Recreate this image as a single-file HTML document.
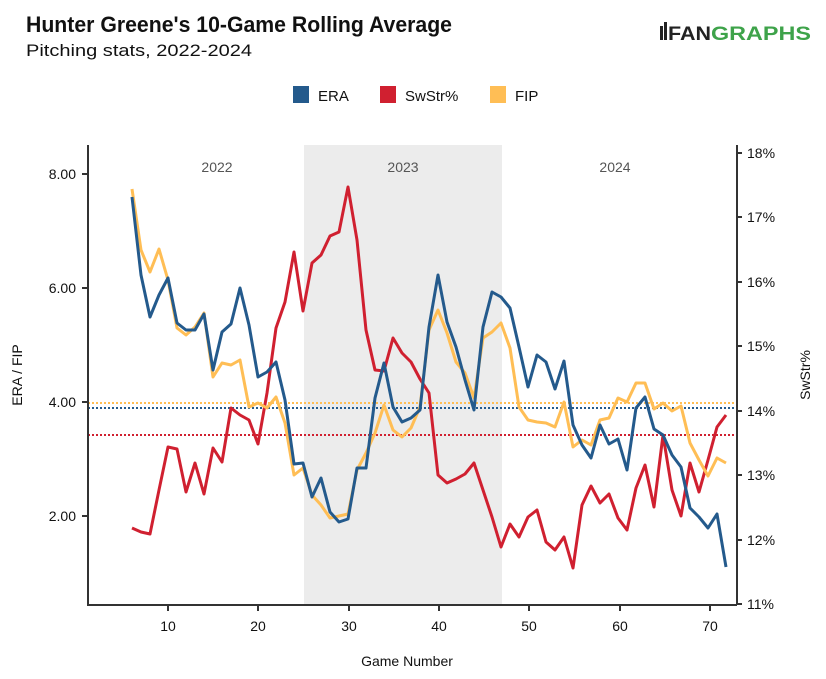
<!DOCTYPE html>
<html><head><meta charset="utf-8"><style>
body{margin:0;background:#fff;}
svg{display:block;font-family:"Liberation Sans",sans-serif;}
</style></head><body>
<svg width="826" height="679" viewBox="0 0 826 679" xmlns="http://www.w3.org/2000/svg">
<rect width="826" height="679" fill="#fff"/>
<text x="26" y="32" font-size="22" font-weight="bold" fill="#111" textLength="426" lengthAdjust="spacingAndGlyphs">Hunter Greene's 10-Game Rolling Average</text>
<text x="26" y="56" font-size="17" fill="#111" textLength="226" lengthAdjust="spacingAndGlyphs">Pitching stats, 2022-2024</text>
<text x="668" y="40" font-size="19" font-weight="bold" fill="#222" textLength="43" lengthAdjust="spacingAndGlyphs">FAN</text>
<text x="711" y="40" font-size="19" font-weight="bold" fill="#3ea34a" textLength="100" lengthAdjust="spacingAndGlyphs">GRAPHS</text>
<rect x="660" y="26" width="3" height="14" fill="#222"/><rect x="664" y="22" width="3" height="18" fill="#222"/>
<rect x="293" y="86" width="16" height="17" fill="#245a8c"/>
<text x="318" y="101" font-size="15" fill="#111">ERA</text>
<rect x="380" y="86" width="16" height="17" fill="#d02030"/>
<text x="405" y="101" font-size="15" fill="#111">SwStr%</text>
<rect x="490" y="86" width="16" height="17" fill="#ffbe55"/>
<text x="515" y="101" font-size="15" fill="#111">FIP</text>
<rect x="304" y="145" width="198" height="460" fill="#ececec"/>
<g font-size="14" fill="#555" text-anchor="middle">
<text x="217" y="172">2022</text><text x="403" y="172">2023</text><text x="615" y="172">2024</text>
</g>
<g stroke-width="2" stroke-dasharray="2,2" fill="none">
<line x1="88" x2="737" y1="403" y2="403" stroke="#ffbe55"/>
<line x1="88" x2="737" y1="408" y2="408" stroke="#245a8c"/>
<line x1="88" x2="737" y1="435" y2="435" stroke="#d02030"/>
</g>
<g fill="none" stroke-width="3" stroke-linejoin="round">
<polyline stroke="#d02030" points="132,528 141,532 150,534 159,490 168,447 177,449 186,492 195,463 204,494 213,448 222,462 231,408 240,415 249,420 258,444 267,393 276,328 285,302 294,252 303,311 312,263 321,255 330,236 339,232 348,187 357,240 366,330 375,370 384,371 393,338 402,353 411,362 420,379 429,393 438,475 447,483 456,479 465,474 474,463 483,490 492,517 501,547 510,524 519,537 528,517 537,510 546,542 555,550 564,537 573,568 582,505 591,486 600,503 609,494 618,518 627,530 636,488 645,465 654,507 663,435 672,490 681,516 690,463 699,492 708,460 717,427 726,415"/>
<polyline stroke="#ffbe55" points="132,189 141,250 150,272 159,249 168,280 177,328 186,335 195,327 204,313 213,377 222,363 231,365 240,360 249,407 258,403 267,408 276,397 285,423 294,475 303,468 312,495 321,505 330,518 339,516 348,514 357,470 366,453 375,433 384,405 393,430 402,437 411,428 420,407 429,330 438,310 447,333 456,362 465,373 474,398 483,338 492,332 501,323 510,348 519,407 528,420 537,422 546,423 555,427 564,402 573,447 582,440 591,445 600,420 609,418 618,398 627,402 636,383 645,383 654,409 663,403 672,411 681,406 690,443 699,460 708,476 717,458 726,463"/>
<polyline stroke="#245a8c" points="132,197 141,275 150,317 159,295 168,278 177,323 186,330 195,330 204,314 213,370 222,332 231,324 240,288 249,325 258,377 267,372 276,362 285,400 294,464 303,463 312,497 321,478 330,512 339,522 348,519 357,468 366,468 375,398 384,363 393,407 402,422 411,418 420,410 429,327 438,275 447,322 456,347 465,380 474,410 483,327 492,292 501,297 510,308 519,347 528,387 537,355 546,362 555,389 564,361 573,425 582,445 591,458 600,425 609,444 618,439 627,470 636,408 645,397 654,429 663,435 672,455 681,467 690,508 699,517 708,528 717,514 726,567"/>
</g>
<g stroke="#333" stroke-width="2" fill="none">
<polyline points="88,145 88,605 737,605"/>
<line x1="737" y1="145" x2="737" y2="605"/>
<line x1="82" x2="88" y1="174" y2="174"/><line x1="82" x2="88" y1="288" y2="288"/><line x1="82" x2="88" y1="402" y2="402"/><line x1="82" x2="88" y1="516" y2="516"/>
<line x1="737" x2="742" y1="153" y2="153"/><line x1="737" x2="742" y1="217" y2="217"/><line x1="737" x2="742" y1="282" y2="282"/><line x1="737" x2="742" y1="346" y2="346"/><line x1="737" x2="742" y1="411" y2="411"/><line x1="737" x2="742" y1="475" y2="475"/><line x1="737" x2="742" y1="540" y2="540"/><line x1="737" x2="742" y1="604" y2="604"/>
<line x1="168" x2="168" y1="605" y2="611"/><line x1="258" x2="258" y1="605" y2="611"/><line x1="349" x2="349" y1="605" y2="611"/><line x1="439" x2="439" y1="605" y2="611"/><line x1="529" x2="529" y1="605" y2="611"/><line x1="620" x2="620" y1="605" y2="611"/><line x1="710" x2="710" y1="605" y2="611"/>
</g>
<g font-size="14" fill="#111" text-anchor="end">
<text x="76" y="179">8.00</text><text x="76" y="293">6.00</text><text x="76" y="407">4.00</text><text x="76" y="521">2.00</text>
</g>
<g font-size="14" fill="#111">
<text x="747" y="158">18%</text><text x="747" y="222">17%</text><text x="747" y="287">16%</text><text x="747" y="351">15%</text><text x="747" y="416">14%</text><text x="747" y="480">13%</text><text x="747" y="545">12%</text><text x="747" y="609">11%</text>
</g>
<g font-size="14" fill="#111" text-anchor="middle">
<text x="168" y="631">10</text><text x="258" y="631">20</text><text x="349" y="631">30</text><text x="439" y="631">40</text><text x="529" y="631">50</text><text x="620" y="631">60</text><text x="710" y="631">70</text>
<text x="407" y="666">Game Number</text>
<text transform="translate(22,375) rotate(-90)">ERA / FIP</text>
<text transform="translate(810,375) rotate(-90)">SwStr%</text>
</g>
</svg>
</body></html>
